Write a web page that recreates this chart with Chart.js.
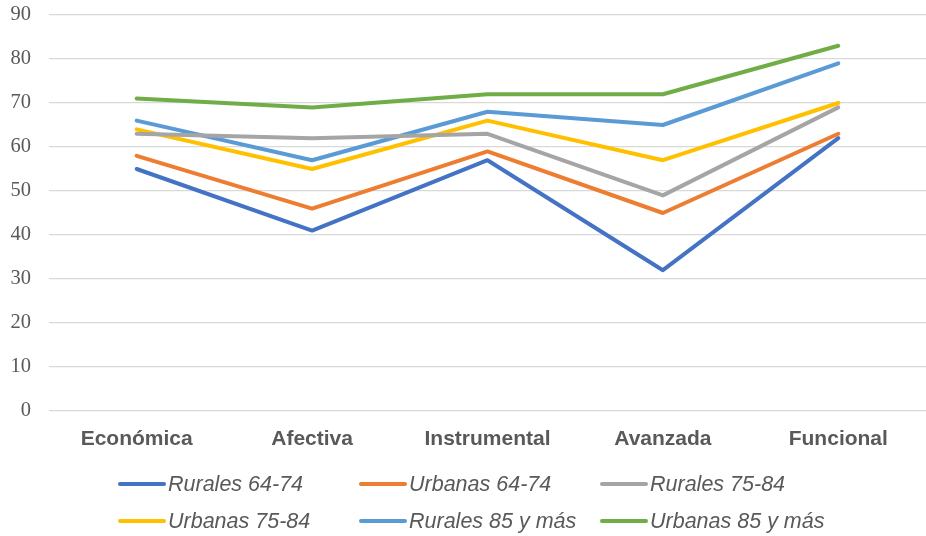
<!DOCTYPE html>
<html>
<head>
<meta charset="utf-8">
<script src="https://cdn.jsdelivr.net/npm/chart.js@4.4.1/dist/chart.umd.min.js"></script>
<style>
  html, body { margin: 0; padding: 0; background: #fff; }
  #wrap { width: 926px; height: 536px; position: relative; }
</style>
</head>
<body>
<div id="wrap"><canvas id="c" width="926" height="536"></canvas></div>
<script>
const categories = ["Económica", "Afectiva", "Instrumental", "Avanzada", "Funcional"];
const seriesNames = ["Rurales 64-74", "Urbanas 64-74", "Rurales 75-84", "Urbanas 75-84", "Rurales 85 y más", "Urbanas 85 y más"];
const rurales6474 = [55, 41, 57, 32, 62];
const urbanas6474 = [58, 46, 59, 45, 63];
const rurales7584 = [63, 62, 63, 49, 69];
const urbanas7584 = [64, 55, 66, 57, 70];
const rurales85 = [66, 57, 68, 65, 79];
const urbanas85 = [71, 69, 72, 72, 83];
const yMin = 0, yMax = 90, yStep = 10;

const colors = ["#4472C4", "#ED7D31", "#A5A5A5", "#FFC000", "#5B9BD5", "#70AD47"];
const seriesValues = [rurales6474, urbanas6474, rurales7584, urbanas7584, rurales85, urbanas85];

const gridLegend = {
  id: 'gridLegend',
  afterDraw(chart) {
    const ctx = chart.ctx;
    ctx.save();
    ctx.font = 'italic 21.5px "Liberation Sans", Arial, sans-serif';
    ctx.fillStyle = '#595959';
    ctx.textBaseline = 'middle';
    ctx.textAlign = 'left';
    chart.data.datasets.forEach((ds, i) => {
      const col = i % 3, row = Math.floor(i / 3);
      const x0 = 118 + col * 241;
      const y = 484 + row * 37;
      ctx.strokeStyle = ds.borderColor;
      ctx.lineWidth = 4;
      ctx.lineCap = 'round';
      ctx.beginPath();
      ctx.moveTo(x0 + 2, y);
      ctx.lineTo(x0 + 46, y);
      ctx.stroke();
      ctx.fillText(ds.label, x0 + 50, y + 1);
    });
    ctx.restore();
  }
};

new Chart(document.getElementById('c'), {
  type: 'line',
  data: {
    labels: categories,
    datasets: seriesNames.map((name, i) => ({
      label: name,
      data: seriesValues[i],
      borderColor: colors[i],
      backgroundColor: colors[i],
      borderWidth: 4,
      pointRadius: 0,
      pointHoverRadius: 0,
      tension: 0,
      fill: false,
      borderCapStyle: 'round',
      borderJoinStyle: 'round'
    }))
  },
  options: {
    responsive: false,
    animation: false,
    devicePixelRatio: 1,
    layout: { padding: { top: 15, left: 0, right: -5, bottom: 0 } },
    plugins: {
      legend: { display: false },
      tooltip: { enabled: false }
    },
    scales: {
      x: {
        offset: true,
        grid: { display: false, drawTicks: false, tickLength: 0 },
        border: { display: false },
        ticks: {
          color: '#595959',
          font: { family: '"Liberation Sans", Arial, sans-serif', size: 21, weight: 'bold' },
          padding: 16,
          maxRotation: 0,
          autoSkip: false
        },
        afterFit(s) { s.height = 125; s.paddingLeft = 0; s.paddingRight = 0; }
      },
      y: {
        min: yMin,
        max: yMax,
        grid: { color: '#D9D9D9', lineWidth: 1.3, drawTicks: false, tickLength: 0 },
        border: { display: false },
        ticks: {
          stepSize: yStep,
          color: '#595959',
          font: { family: '"Liberation Serif", "Times New Roman", serif', size: 20.5 },
          padding: 18
        },
        afterFit(s) { s.width = 49; s.paddingTop = 0; s.paddingBottom = 0; }
      }
    }
  },
  plugins: [gridLegend]
});
</script>
</body>
</html>
